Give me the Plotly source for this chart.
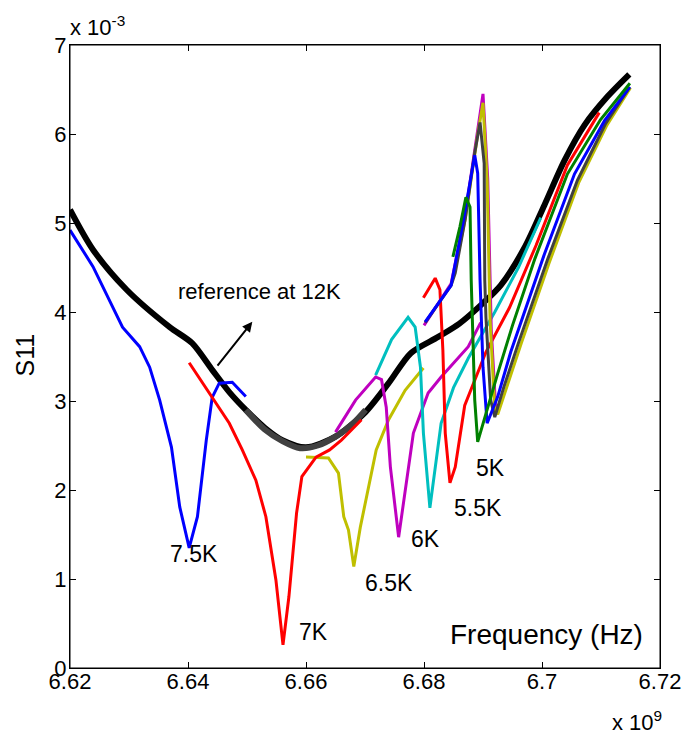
import plotly.graph_objects as go

# ---------------- data (frequency in GHz, S11 in units of 1e-3) ----------------
ref12_f = [6.6200, 6.6239, 6.6296, 6.6369, 6.6407, 6.6441, 6.6470, 6.6498, 6.6530, 6.6560,
           6.6600, 6.6650, 6.6700, 6.6740, 6.6778, 6.6824, 6.6860, 6.6900, 6.6930, 6.6971,
           6.7004, 6.7038, 6.7072, 6.7111, 6.7148]
ref12_s = [5.15, 4.70, 4.25, 3.83, 3.65, 3.35, 3.10, 2.90, 2.70, 2.56,
           2.48, 2.60, 2.87, 3.20, 3.54, 3.72, 3.87, 4.10, 4.30, 4.73,
           5.20, 5.70, 6.10, 6.42, 6.67]

gray_a_f = [6.6498, 6.6530, 6.6560, 6.6590, 6.6620, 6.6650, 6.6680, 6.6701]
gray_a_s = [2.90, 2.68, 2.55, 2.47, 2.50, 2.60, 2.75, 2.90]
gray_b_f = [6.6802, 6.6846, 6.6853, 6.6870, 6.6885, 6.6895, 6.6902, 6.6903, 6.6905, 6.6913,
            6.6920, 6.6935, 6.6960, 6.7010, 6.7060, 6.7108, 6.7148]
gray_b_s = [3.88, 4.30, 4.44, 5.05, 5.75, 6.13, 5.67, 4.36, 3.94, 3.01,
            2.82, 3.15, 3.65, 4.60, 5.48, 6.12, 6.52]

k75_f = [6.6200, 6.6239, 6.6289, 6.6318, 6.6335, 6.6352, 6.6372, 6.6386, 6.6402, 6.6416,
         6.6431, 6.6441, 6.6453, 6.6475, 6.6498]
k75_s = [4.92, 4.51, 3.83, 3.61, 3.38, 3.01, 2.48, 1.81, 1.35, 1.70,
         2.56, 3.04, 3.20, 3.21, 3.05]

k7_f = [6.6402, 6.6441, 6.6470, 6.6492, 6.6515, 6.6532, 6.6549, 6.6561, 6.6571, 6.6584,
        6.6593, 6.6617, 6.6640, 6.6660, 6.6694]
k7_s = [3.43, 3.04, 2.75, 2.45, 2.11, 1.70, 0.99, 0.26, 0.80, 1.74,
        2.15, 2.37, 2.45, 2.56, 2.79]

k65_f = [6.6600, 6.6638, 6.6655, 6.6664, 6.6672, 6.6681, 6.6692, 6.6706, 6.6719, 6.6740,
         6.6768, 6.6799]
k65_s = [2.37, 2.36, 2.19, 1.70, 1.55, 1.14, 1.58, 2.03, 2.45, 2.79,
         3.12, 3.37]

k6_f = [6.6650, 6.6684, 6.6718, 6.6728, 6.6736, 6.6743, 6.6757, 6.6768, 6.6782, 6.6807,
        6.6829, 6.6875, 6.6896]
k6_s = [2.65, 3.01, 3.27, 3.24, 2.93, 2.26, 1.47, 1.97, 2.64, 3.09,
        3.27, 3.61, 3.88]

cyan_f = [6.6718, 6.6745, 6.6773, 6.6785, 6.6794, 6.6799, 6.6810, 6.6829, 6.6850, 6.6875,
          6.6920, 6.6960, 6.6998]
cyan_s = [3.29, 3.69, 3.94, 3.83, 3.38, 2.64, 1.80, 2.75, 3.15, 3.48,
          4.00, 4.50, 5.06]

k55_f = [6.6799, 6.6819, 6.6827, 6.6832, 6.6836, 6.6844, 6.6853, 6.6869, 6.6905, 6.6945,
         6.6990, 6.7043, 6.7097]
k55_s = [4.16, 4.38, 4.25, 3.57, 2.64, 2.08, 2.26, 2.95, 3.55, 4.05,
         4.75, 5.65, 6.24]

k5_f = [6.6849, 6.6861, 6.6871, 6.6878, 6.6880, 6.6886, 6.6891, 6.6903, 6.6925, 6.6950,
        6.6988, 6.7043, 6.7099, 6.7149]
k5_s = [4.62, 4.96, 5.29, 5.18, 4.36, 3.01, 2.54, 2.82, 3.31, 3.85,
        4.60, 5.55, 6.16, 6.57]

blue2_f = [6.6802, 6.6846, 6.6866, 6.6886, 6.6891, 6.6895, 6.6900, 6.6907, 6.6925, 6.6947,
           6.7004, 6.7055, 6.7106, 6.7149]
blue2_s = [3.89, 4.30, 5.00, 5.76, 5.56, 4.36, 3.38, 2.75, 3.05, 3.55,
           4.65, 5.55, 6.15, 6.53]

yel2_f = [6.6850, 6.6870, 6.6890, 6.6900, 6.6907, 6.6910, 6.6912, 6.6920, 6.6925, 6.6940,
          6.6965, 6.7012, 6.7062, 6.7110, 6.7150]
yel2_s = [4.40, 5.05, 5.95, 6.35, 5.48, 4.36, 3.91, 2.90, 2.85, 3.15,
          3.65, 4.55, 5.45, 6.10, 6.52]

mag2_f = [6.6800, 6.6846, 6.6870, 6.6890, 6.6900, 6.6908, 6.6911, 6.6914, 6.6922]
mag2_s = [3.85, 4.32, 5.10, 6.00, 6.45, 5.50, 4.50, 3.80, 2.86]

x_ticks = [6.62, 6.64, 6.66, 6.68, 6.70, 6.72]
x_tick_text = ["6.62", "6.64", "6.66", "6.68", "6.7", "6.72"]
y_ticks = [0, 1, 2, 3, 4, 5, 6, 7]

labels_text = ["7.5K", "7K", "6.5K", "6K", "5.5K", "5K"]
labels_f = [6.6411, 6.6612, 6.6740, 6.6802, 6.6892, 6.6913]
labels_s = [1.28, 0.40, 0.96, 1.45, 1.80, 2.25]

# ---------------- figure ----------------
BLUE, RED, GREEN = "#0000FF", "#FF0000", "#008000"
CYAN, MAG, YEL = "#00BFBF", "#BF00BF", "#BFBF00"
DGRAY = "#404040"

fig = go.Figure()

def add(f, s, color, width, shape="linear"):
    fig.add_trace(go.Scatter(x=f, y=s, mode="lines",
                             line=dict(color=color, width=width, shape=shape, smoothing=0.8),
                             showlegend=False, hoverinfo="skip"))

add(ref12_f, ref12_s, "#000000", 6, "spline")
add(gray_a_f, gray_a_s, DGRAY, 6, "spline")
add(k75_f, k75_s, BLUE, 3)
add(k65_f, k65_s, YEL, 3)
add(k7_f, k7_s, RED, 3)
add(k6_f, k6_s, MAG, 3)
add(cyan_f, cyan_s, CYAN, 3)
add(k55_f, k55_s, RED, 3)
add(mag2_f, mag2_s, MAG, 3)
add(yel2_f, yel2_s, YEL, 3)
add(gray_b_f, gray_b_s, DGRAY, 3)
add(blue2_f, blue2_s, BLUE, 3)
add(k5_f, k5_s, GREEN, 3)

FONT = "Liberation Sans, Arial, Helvetica, sans-serif"
anns = []
for t, fx, sy in zip(labels_text, labels_f, labels_s):
    anns.append(dict(x=fx, y=sy, xref="x", yref="y", text=t, showarrow=False,
                     xanchor="center", yanchor="middle",
                     font=dict(family=FONT, size=23, color="black")))
anns.append(dict(x=6.6509, y=3.89, ax=6.6448, ay=3.38, xref="x", yref="y", axref="x", ayref="y",
                 text="", showarrow=True, arrowhead=2, arrowsize=1, arrowwidth=2, arrowcolor="black"))
anns.append(dict(x=6.6521, y=4.23, xref="x", yref="y", text="reference at 12K", showarrow=False,
                 xanchor="center", yanchor="middle",
                 font=dict(family=FONT, size=22, color="black")))
anns.append(dict(x=0.808, y=0.053, xref="paper", yref="paper", text="Frequency (Hz)", showarrow=False,
                 xanchor="center", yanchor="middle",
                 font=dict(family=FONT, size=28, color="black")))
anns.append(dict(x=-0.076, y=0.502, xref="paper", yref="paper", text="S11", textangle=-90,
                 showarrow=False, xanchor="center", yanchor="middle",
                 font=dict(family=FONT, size=25, color="black")))
anns.append(dict(x=-0.003, y=1.03, xref="paper", yref="paper", text="x 10<sup>-3</sup>", showarrow=False,
                 xanchor="left", yanchor="middle", font=dict(family=FONT, size=22, color="black")))
anns.append(dict(x=1.006, y=-0.085, xref="paper", yref="paper", text="x 10<sup>9</sup>", showarrow=False,
                 xanchor="right", yanchor="middle", font=dict(family=FONT, size=22, color="black")))

# the page body adds an 8 px offset, so the figure is shrunk by 8 px and margins shifted
fig.update_layout(
    width=685, height=730,
    margin=dict(l=62, r=30, t=37, b=70),
    paper_bgcolor="white", plot_bgcolor="white",
    font=dict(family=FONT, size=22, color="black"),
    annotations=anns,
    shapes=[dict(type="rect", xref="paper", yref="paper", x0=0, y0=0, x1=1, y1=1,
                 line=dict(color="black", width=1), fillcolor="rgba(0,0,0,0)", layer="above")],
    xaxis=dict(range=[6.62, 6.72], tickvals=x_ticks, ticktext=x_tick_text,
               ticks="inside", ticklen=6, tickcolor="black", showline=True, linecolor="black",
               linewidth=1, mirror="ticks", showgrid=False, zeroline=False,
               ticklabelstandoff=-6,
               tickfont=dict(family=FONT, size=22, color="black")),
    yaxis=dict(range=[0, 7], tickvals=y_ticks, ticks="inside", ticklen=6, tickcolor="black",
               showline=True, linecolor="black", linewidth=1, mirror="ticks",
               showgrid=False, zeroline=False, ticklabelstandoff=-2,
               tickfont=dict(family=FONT, size=22, color="black")),
)

fig.write_html("out.html")
